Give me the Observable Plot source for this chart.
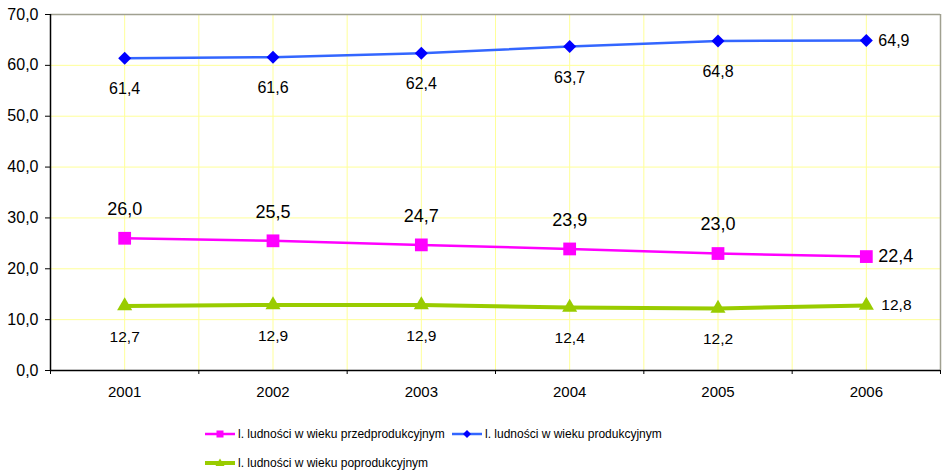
<!DOCTYPE html>
<html>
<head>
<meta charset="utf-8">
<script src="https://cdn.jsdelivr.net/npm/d3@7"></script>
<script src="https://cdn.jsdelivr.net/npm/@observablehq/plot@0.6"></script>
<style>
  body { margin: 0; background: #fff; font-family: "Liberation Sans", Arial, sans-serif; }
  #chart { width: 942px; height: 410px; }
  #legend { position: relative; width: 942px; height: 62px; font-size: 12px; color: #000; }
  .item { position: absolute; display: flex; align-items: center; height: 16px; white-space: nowrap; }
  .item svg { margin-right: 3px; }
</style>
</head>
<body>
<div id="chart"></div>
<div id="legend"></div>
<script>
const years = [2001, 2002, 2003, 2004, 2005, 2006];
const przedprodukcyjny = [26.0, 25.5, 24.7, 23.9, 23.0, 22.4];
const produkcyjny = [61.4, 61.6, 62.4, 63.7, 64.8, 64.9];
const poprodukcyjny = [12.7, 12.9, 12.9, 12.4, 12.2, 12.8];
const yTicks = [0, 10, 20, 30, 40, 50, 60, 70];
const seriesNames = [
  "l. ludności w wieku przedprodukcyjnym",
  "l. ludności w wieku produkcyjnym",
  "l. ludności w wieku poprodukcyjnym"
];

const fmt = v => d3.format(".1f")(v).replace(".", ",");
const rows = (vals) => years.map((y, i) => ({year: y, value: vals[i]}));
const przed = rows(przedprodukcyjny);
const prod = rows(produkcyjny);
const poprod = rows(poprodukcyjny);
const boundaries = [years[0] - 0.5, ...years.map(y => y + 0.5)];
const xMin = years[0] - 0.5, xMax = years[years.length - 1] + 0.5;

const diamond = {
  draw(ctx, size) {
    const h = Math.sqrt(size / Math.PI) * 1.3;
    ctx.moveTo(0, -h); ctx.lineTo(h, 0); ctx.lineTo(0, h); ctx.lineTo(-h, 0); ctx.closePath();
  }
};

const grid = "#ffff99";
const magenta = "#ff00ff", blueLine = "#3366ff", blueMark = "#0000ff", green = "#99cc00";

const notLast = d => d.year !== years[years.length - 1];
const isLast = d => d.year === years[years.length - 1];

const plot = Plot.plot({
  width: 942,
  height: 410,
  marginLeft: 50,
  marginRight: 2,
  marginTop: 14,
  marginBottom: 40,
  style: {fontFamily: "Liberation Sans, Arial, sans-serif", color: "#000", background: "#fff"},
  x: {type: "linear", domain: [xMin, xMax]},
  y: {type: "linear", domain: [0, 70]},
  marks: [
    Plot.ruleY(yTicks.slice(1, -1), {stroke: grid, strokeWidth: 1}),
    Plot.ruleX([...years, ...boundaries.slice(1, -1)], {stroke: grid, strokeWidth: 1}),
    Plot.ruleY([70], {stroke: "#a0a090", strokeWidth: 1.5}),
    Plot.ruleX([xMax], {stroke: "#a0a090", strokeWidth: 1.5}),
    Plot.ruleX([xMin], {stroke: "#000", strokeWidth: 1.5}),
    Plot.ruleY([0], {stroke: "#000", strokeWidth: 1.5}),
    Plot.axisY({ticks: yTicks, tickSize: 5, tickPadding: 7, tickFormat: fmt, fontSize: 16, label: null, stroke: "#000"}),
    Plot.axisX({ticks: boundaries, tickSize: 4, tickFormat: () => "", label: null}),
    Plot.axisX({ticks: years, tickSize: 0, tickPadding: 16, tickFormat: d => String(d), fontSize: 15, label: null}),
    Plot.line(poprod, {x: "year", y: "value", stroke: green, strokeWidth: 4}),
    Plot.line(przed, {x: "year", y: "value", stroke: magenta, strokeWidth: 2.5}),
    Plot.line(prod, {x: "year", y: "value", stroke: blueLine, strokeWidth: 2.5}),
    Plot.dot(poprod, {x: "year", y: "value", symbol: "triangle", r: 5.6, fill: green, stroke: null}),
    Plot.dot(przed, {x: "year", y: "value", symbol: "square", r: 7.2, fill: magenta, stroke: null}),
    Plot.dot(prod, {x: "year", y: "value", symbol: diamond, r: 5, fill: blueMark, stroke: null}),
    Plot.text(prod, {filter: notLast, x: "year", y: "value", text: d => fmt(d.value), dy: 31, fontSize: 16, fill: "#000"}),
    Plot.text(prod, {filter: isLast, x: "year", y: "value", text: d => fmt(d.value), dx: 12, textAnchor: "start", fontSize: 16, fill: "#000"}),
    Plot.text(przed, {filter: notLast, x: "year", y: "value", text: d => fmt(d.value), dy: -29, fontSize: 18, fill: "#000"}),
    Plot.text(przed, {filter: isLast, x: "year", y: "value", text: d => fmt(d.value), dx: 12, textAnchor: "start", fontSize: 18, fill: "#000"}),
    Plot.text(poprod, {filter: notLast, x: "year", y: "value", text: d => fmt(d.value), dy: 31, fontSize: 15.5, fill: "#000"}),
    Plot.text(poprod, {filter: isLast, x: "year", y: "value", text: d => fmt(d.value), dx: 15, textAnchor: "start", fontSize: 15.5, fill: "#000"})
  ]
});
document.getElementById("chart").appendChild(plot);

// Legend
const legendItems = [
  {name: seriesNames[0], color: magenta, marker: "square", left: 205, top: 16, sw: 2.5},
  {name: seriesNames[1], color: blueLine, markColor: blueMark, marker: "diamond", left: 452, top: 16, sw: 2.5},
  {name: seriesNames[2], color: green, marker: "triangle", left: 205, top: 45, sw: 4}
];
const legend = document.getElementById("legend");
for (const it of legendItems) {
  const div = document.createElement("div");
  div.className = "item";
  div.style.left = it.left + "px";
  div.style.top = it.top + "px";
  let mk = "";
  const mc = it.markColor || it.color;
  if (it.marker === "square") mk = `<rect x="11.5" y="4.5" width="7" height="7" fill="${mc}"/>`;
  else if (it.marker === "diamond") mk = `<path d="M15,4 L19,8 L15,12 L11,8 Z" fill="${mc}"/>`;
  else mk = `<path d="M15,3.5 L19.5,11 L10.5,11 Z" fill="${mc}"/>`;
  div.innerHTML = `<svg width="30" height="16"><line x1="0" x2="30" y1="8" y2="8" stroke="${it.color}" stroke-width="${it.sw}"/>${mk}</svg><span>${it.name}</span>`;
  legend.appendChild(div);
}
</script>
</body>
</html>
